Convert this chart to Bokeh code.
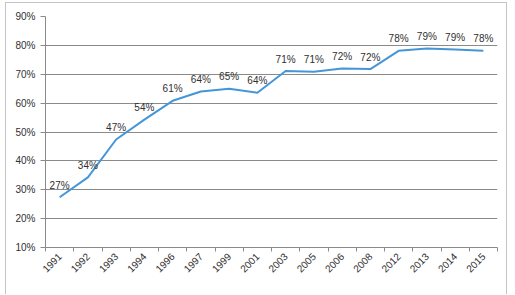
from bokeh.plotting import figure
from bokeh.models import FixedTicker, Range1d, PrintfTickFormatter
from bokeh.embed import file_html
from bokeh.resources import INLINE
from bokeh.core.properties import value
import math

# ---- data ----
years = ["1991", "1992", "1993", "1994", "1996", "1997", "1999", "2001",
         "2003", "2005", "2006", "2008", "2012", "2013", "2014", "2015"]
shares = [27.4, 34.3, 47.4, 54.3, 60.8, 64.0, 65.0, 63.6,
          71.1, 70.9, 72.0, 71.8, 78.1, 78.9, 78.6, 78.1]
y_ticks = [10, 20, 30, 40, 50, 60, 70, 80, 90]

n = len(years)
xs = list(range(n))
labels = [f"{int(math.floor(v + 0.5))}%" for v in shares]

FONT = "Liberation Sans"
TEXT = "#303030"
GRID = "#8a8a8a"
LINE = "#4496d8"

p = figure(width=502, height=292, output_backend="svg", toolbar_location=None,
           x_range=Range1d(-0.5, n - 0.5), y_range=Range1d(10, 90),
           min_border_left=39, min_border_right=11, min_border_top=13,
           min_border_bottom=48)
p.styles = {"margin-left": "5px", "margin-top": "2px",
            "border-left": "1px solid #c4c4c4", "border-top": "1px solid #c4c4c4",
            "border-right": "1px solid #c4c4c4"}
p.outline_line_color = None
p.background_fill_color = "white"
p.border_fill_color = "white"

p.line(x=xs, y=shares, line_color=LINE, line_width=2)

# data labels
p.text(x=xs, y=shares, text=labels, text_align="center", text_baseline="alphabetic",
       y_offset=-12, text_font=value(FONT), text_font_size="10px", text_color=TEXT)

# y axis
p.yaxis.ticker = FixedTicker(ticks=y_ticks)
p.yaxis.formatter = PrintfTickFormatter(format="%d%%")
p.yaxis.axis_line_color = GRID
p.yaxis.major_tick_line_color = GRID
p.yaxis.major_tick_out = 5
p.yaxis.major_tick_in = 0
p.yaxis.minor_tick_line_color = None
p.yaxis.major_label_standoff = 5
p.yaxis.major_label_text_font = FONT
p.yaxis.major_label_text_font_size = "10px"
p.yaxis.major_label_text_color = TEXT

p.ygrid.ticker = FixedTicker(ticks=y_ticks)
p.ygrid.grid_line_color = GRID
p.xgrid.grid_line_color = None

# x axis: labels at category centres, ticks at category boundaries
p.xaxis.ticker = FixedTicker(ticks=xs, minor_ticks=[i - 0.5 for i in range(n + 1)])
p.xaxis.major_label_overrides = {i: y for i, y in zip(xs, years)}
p.xaxis.major_label_orientation = math.pi / 4
p.xaxis.axis_line_color = GRID
p.xaxis.major_tick_line_color = None
p.xaxis.major_tick_out = 0
p.xaxis.major_tick_in = 0
p.xaxis.minor_tick_line_color = GRID
p.xaxis.minor_tick_out = 4
p.xaxis.minor_tick_in = 0
p.xaxis.major_label_standoff = 3
p.xaxis.major_label_text_font = FONT
p.xaxis.major_label_text_font_size = "10px"
p.xaxis.major_label_text_color = TEXT

open("out.html", "w").write(file_html(p, INLINE))
